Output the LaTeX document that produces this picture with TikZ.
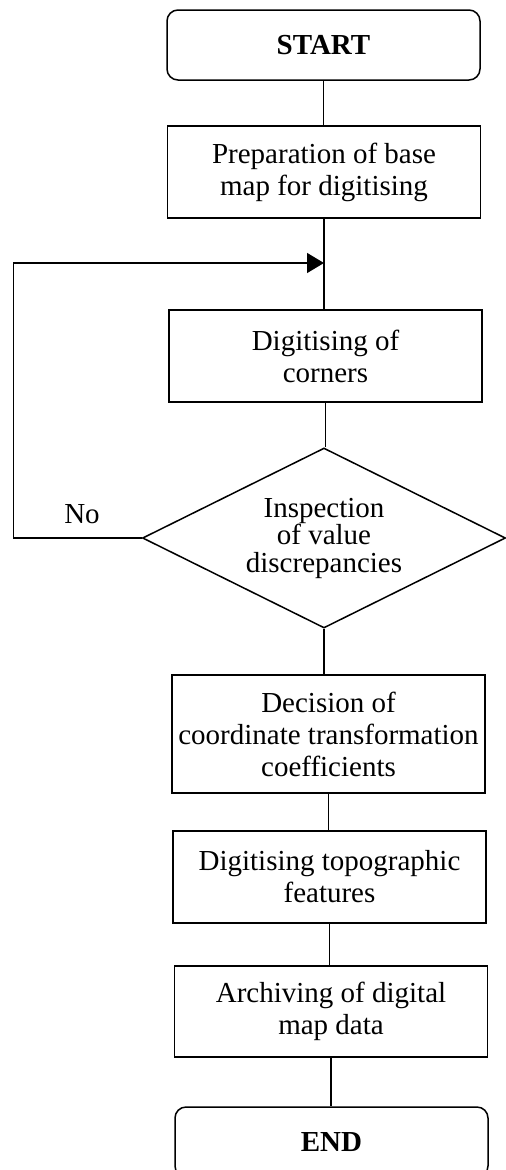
\documentclass[tikz,border=0pt]{standalone}
\usepackage{fontspec}
\setmainfont{Liberation Serif}
\usetikzlibrary{shapes.geometric,arrows.meta}
\begin{document}
\begin{tikzpicture}[x=1pt,y=-1pt,
  every node/.style={font=\fontsize{29}{32}\selectfont, align=center, inner sep=0pt},
  flow/.style={draw, line width=1.5pt},
  stepbox/.style={flow, rectangle, minimum width=313pt, minimum height=92pt},
  terminal/.style={flow, rectangle, rounded corners=11pt, minimum width=313pt,
    minimum height=70pt, font=\fontsize{29}{32}\selectfont\bfseries},
  decision/.style={flow, diamond, aspect=2.02, minimum width=363pt, minimum height=180pt,
    font=\fontsize{29}{27.5}\selectfont},
  link/.style={line width=1.5pt},
  tip/.style={-{Triangle[length=17pt,width=20pt]}},
]
\useasboundingbox (0,0) rectangle (506,1170);
\clip (0,0) rectangle (506,1170);

% process steps
\node[terminal] (start) at (323.5,45) {START};
\node[stepbox] (prep) at (324,172) {Preparation of base\\map for digitising};
\node[stepbox] (corners) at (325.5,356) {Digitising of\\corners};
\node[decision] (check) at (324,538) {Inspection\\of value\\discrepancies};
\node[stepbox, minimum height=118pt] (coeff) at (328.5,734)
  {Decision of\\coordinate transformation\\coefficients};
\node[stepbox] (topo) at (329.5,877) {Digitising topographic\\features};
\node[stepbox, minimum height=91pt] (archive) at (331,1011.5)
  {Archiving of digital\\map data};
\node[terminal] (end) at (331.5,1142) {END};

% loop-back points
\coordinate (join) at (324,263);
\coordinate (loop) at (13.5,263);

% main flow
\draw[link] (start.south) -- (start.south |- prep.north);
\draw[link] (prep.south) -- (prep.south |- corners.north);
\draw[link] (corners.south) -- (corners.south |- check.north);
\draw[link] (check.south) -- (check.south |- coeff.north);
\draw[link] (coeff.south) -- (coeff.south |- topo.north);
\draw[link] (topo.south) -- (topo.south |- archive.north);
\draw[link] (archive.south) -- (archive.south |- end.north);

% "No" branch back to the corner digitising step
\draw[link, tip] (check.west) -| (loop) -- (join);
\node (no) at (82,514) {No};
\end{tikzpicture}
\end{document}
